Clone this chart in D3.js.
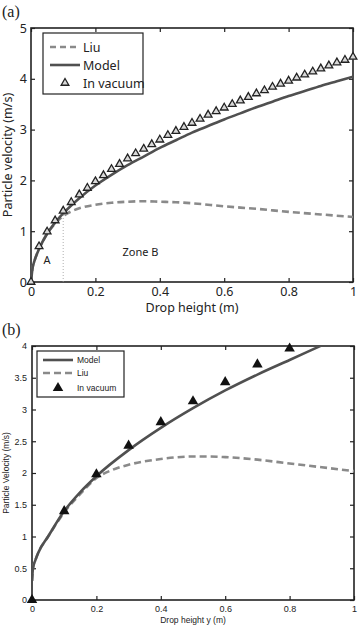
<!DOCTYPE html>
<html><head><meta charset="utf-8">
<script src="https://cdn.jsdelivr.net/npm/d3@7"></script>
<style>body{margin:0;background:#fff}svg{display:block}</style>
</head><body>
<script>
// ---------- Panel (a) data ----------
const xTicksA = [0, 0.2, 0.4, 0.6, 0.8, 1];
const xTickLabelsA = ["0", "0.2", "0.4", "0.6", "0.8", "1"];
const yTicksA = [0, 1, 2, 3, 4, 5];
const yTickLabelsA = ["0", "1", "2", "3", "4", "5"];
const vacuumHA = [0,0.025,0.05,0.075,0.1,0.125,0.15,0.175,0.2,0.225,0.25,0.275,0.3,0.325,0.35,0.375,0.4,0.425,0.45,0.475,0.5,0.525,0.55,0.575,0.6,0.625,0.65,0.675,0.7,0.725,0.75,0.775,0.8,0.825,0.85,0.875,0.9,0.925,0.95,0.975,1];
const vacuumVA = [0,0.70,0.99,1.21,1.40,1.57,1.72,1.85,1.98,2.10,2.22,2.32,2.43,2.53,2.62,2.71,2.80,2.89,2.97,3.05,3.13,3.21,3.29,3.36,3.43,3.50,3.57,3.64,3.71,3.77,3.84,3.90,3.96,4.02,4.08,4.14,4.20,4.26,4.32,4.37,4.43];
const modelHA = [0,0.005,0.01,0.025,0.05,0.075,0.1,0.15,0.2,0.25,0.3,0.35,0.4,0.45,0.5,0.55,0.6,0.65,0.7,0.75,0.8,0.85,0.9,0.95,1];
const modelVA = [0,0.28,0.40,0.65,0.95,1.17,1.35,1.65,1.90,2.11,2.30,2.47,2.64,2.79,2.94,3.07,3.20,3.32,3.44,3.55,3.66,3.76,3.86,3.95,4.04];
const liuHA = [0,0.005,0.01,0.025,0.05,0.075,0.1,0.125,0.15,0.2,0.25,0.3,0.35,0.4,0.45,0.5,0.6,0.7,0.8,0.9,1];
const liuVA = [0,0.28,0.40,0.65,0.95,1.15,1.30,1.39,1.45,1.52,1.56,1.58,1.59,1.58,1.57,1.55,1.49,1.44,1.38,1.33,1.28];
const zoneLineA = [0.1, 1.35];

// ---------- Panel (b) data ----------
const xTicksB = [0, 0.2, 0.4, 0.6, 0.8, 1];
const xTickLabelsB = ["0", "0.2", "0.4", "0.6", "0.8", "1"];
const yTicksB = [0, 0.5, 1, 1.5, 2, 2.5, 3, 3.5, 4];
const yTickLabelsB = ["0", "0.5", "1", "1.5", "2", "2.5", "3", "3.5", "4"];
const vacuumHB = [0,0.1,0.2,0.3,0.4,0.5,0.6,0.7,0.8];
const vacuumVB = [0,1.40,1.98,2.43,2.80,3.13,3.43,3.71,3.96];
const modelHB = [0,0.003,0.01,0.02,0.05,0.1,0.15,0.2,0.3,0.4,0.5,0.6,0.7,0.8,0.9];
const modelVB = [0.3,0.5,0.62,0.75,1.0,1.4,1.70,1.95,2.36,2.71,3.02,3.30,3.55,3.78,4.01];
const liuHB = [0,0.003,0.01,0.02,0.05,0.1,0.15,0.2,0.25,0.3,0.4,0.5,0.55,0.6,0.7,0.8,0.9,1];
const liuVB = [0.3,0.5,0.62,0.75,1.0,1.38,1.67,1.92,2.05,2.13,2.22,2.26,2.26,2.25,2.21,2.15,2.09,2.03];

const W = 360, H = 628;
const svg = d3.select("body").append("svg").attr("width", W).attr("height", H);

const modelColor = "#505050", liuColor = "#8a8a8a";

function panel(cfg) {
  const g = svg.append("g");
  const x = d3.scaleLinear().domain([0, 1]).range([cfg.left, cfg.right]);
  const y = d3.scaleLinear().domain(cfg.yDomain).range([cfg.bottom, cfg.top]);
  const clipId = "clip" + cfg.id;
  svg.append("clipPath").attr("id", clipId).append("rect")
    .attr("x", cfg.left).attr("y", cfg.top)
    .attr("width", cfg.right - cfg.left).attr("height", cfg.bottom - cfg.top);

  const fmtX = d => cfg.xLabels[cfg.xTicks.indexOf(d)];
  const fmtY = d => cfg.yLabels[cfg.yTicks.indexOf(d)];
  const ax = g.append("g").attr("transform", `translate(0,${cfg.bottom})`)
    .call(d3.axisBottom(x).tickValues(cfg.xTicks).tickSize(-4).tickPadding(cfg.xPad).tickFormat(fmtX));
  const ay = g.append("g").attr("transform", `translate(${cfg.left},0)`)
    .call(d3.axisLeft(y).tickValues(cfg.yTicks).tickSize(-4).tickPadding(cfg.yPad).tickFormat(fmtY));
  const at = g.append("g").attr("transform", `translate(0,${cfg.top})`)
    .call(d3.axisTop(x).tickValues(cfg.xTicks).tickSize(-4).tickFormat(""));
  const ar = g.append("g").attr("transform", `translate(${cfg.right},0)`)
    .call(d3.axisRight(y).tickValues(cfg.yTicks).tickSize(-4).tickFormat(""));
  [ax, ay, at, ar].forEach(a => {
    a.select(".domain").remove();
    a.selectAll("line").attr("stroke", "#222").attr("stroke-width", 1.2);
    a.selectAll("text").attr("fill", "#222").attr("font-family", cfg.font).attr("font-size", cfg.tickSize);
  });
  g.append("rect").attr("x", cfg.left).attr("y", cfg.top)
    .attr("width", cfg.right - cfg.left).attr("height", cfg.bottom - cfg.top)
    .attr("fill", "none").attr("stroke", "#222").attr("stroke-width", 1.6);

  const plot = g.append("g").attr("clip-path", `url(#${clipId})`);
  const line = d3.line().x(d => x(d[0])).y(d => y(d[1])).curve(d3.curveMonotoneX);
  cfg.draw(plot, x, y, line);

  g.append("text").attr("x", 2).attr("y", cfg.top - 11).attr("font-family", "Liberation Serif, Times New Roman, serif")
    .attr("font-size", 16).attr("fill", "#222").text(cfg.title);
  g.append("text").attr("x", (cfg.left + cfg.right) / 2).attr("y", cfg.xLabelY).attr("text-anchor", "middle")
    .attr("font-family", cfg.font).attr("font-size", cfg.labelSize).attr("fill", "#222").text(cfg.xLabel);
  g.append("text").attr("transform", `translate(${cfg.yLabelX},${(cfg.top + cfg.bottom) / 2}) rotate(-90)`)
    .attr("text-anchor", "middle").attr("font-family", cfg.font).attr("font-size", cfg.labelSize)
    .attr("fill", "#222").text(cfg.yLabel);
  return {g, x, y};
}

function pairs(h, v) { return h.map((d, i) => [d, v[i]]); }

// ---------- Panel (a) ----------
const pa = panel({
  id: "a", left: 31, right: 353, top: 28, bottom: 282, yDomain: [0, 5],
  xTicks: xTicksA, xLabels: xTickLabelsA, yTicks: yTicksA, yLabels: yTickLabelsA,
  font: "Noto Sans, sans-serif", tickSize: 12.5, labelSize: 12.5, xPad: 5, yPad: 4,
  title: "(a)", xLabel: "Drop height (m)", xLabelY: 312, yLabel: "Particle velocity (m/s)", yLabelX: 12,
  draw: (p, x, y, line) => {
    p.append("line").attr("x1", x(zoneLineA[0])).attr("x2", x(zoneLineA[0]))
      .attr("y1", y(0)).attr("y2", y(zoneLineA[1]))
      .attr("stroke", "#999").attr("stroke-width", 0.8).attr("stroke-dasharray", "1,2");
    p.append("path").datum(pairs(liuHA, liuVA)).attr("d", line).attr("fill", "none")
      .attr("stroke", liuColor).attr("stroke-width", 2.6).attr("stroke-dasharray", "7,4");
    p.append("path").datum(pairs(modelHA, modelVA)).attr("d", line).attr("fill", "none")
      .attr("stroke", modelColor).attr("stroke-width", 2.6);
    svg.append("g").selectAll("path").data(pairs(vacuumHA, vacuumVA)).join("path")
      .attr("transform", d => `translate(${x(d[0])},${y(d[1])})`)
      .attr("d", d3.symbol(d3.symbolTriangle, 26)).attr("fill", "#d8d8d8").attr("stroke", "#222").attr("stroke-width", 1.3);
    p.append("text").attr("x", x(0.05)).attr("y", y(0.35)).attr("text-anchor", "middle")
      .attr("font-family", "Noto Sans, sans-serif").attr("font-size", 11).attr("fill", "#222").text("A");
    p.append("text").attr("x", x(0.34)).attr("y", y(0.52)).attr("text-anchor", "middle")
      .attr("font-family", "Noto Sans, sans-serif").attr("font-size", 11).attr("fill", "#222").text("Zone B");
  }
});
// legend (a)
(function(){
  const lg = svg.append("g");
  lg.append("rect").attr("x", 43).attr("y", 33).attr("width", 100).attr("height", 61)
    .attr("fill", "#fff").attr("stroke", "#222").attr("stroke-width", 1.2);
  const f = "Noto Sans, sans-serif";
  lg.append("line").attr("x1", 50).attr("x2", 80).attr("y1", 47).attr("y2", 47)
    .attr("stroke", liuColor).attr("stroke-width", 2.6).attr("stroke-dasharray", "6,4");
  lg.append("text").attr("x", 83).attr("y", 51.5).attr("font-family", f).attr("font-size", 12.5).attr("fill", "#222").text("Liu");
  lg.append("line").attr("x1", 50).attr("x2", 80).attr("y1", 65).attr("y2", 65)
    .attr("stroke", modelColor).attr("stroke-width", 2.6);
  lg.append("text").attr("x", 83).attr("y", 69.5).attr("font-family", f).attr("font-size", 12.5).attr("fill", "#222").text("Model");
  lg.append("path").attr("transform", "translate(65,83)").attr("d", d3.symbol(d3.symbolTriangle, 26))
    .attr("fill", "#d8d8d8").attr("stroke", "#222").attr("stroke-width", 1.3);
  lg.append("text").attr("x", 83).attr("y", 87.5).attr("font-family", f).attr("font-size", 12.5).attr("fill", "#222").text("In vacuum");
})();

// ---------- Panel (b) ----------
const pb = panel({
  id: "b", left: 32, right: 354, top: 346, bottom: 600, yDomain: [0, 4],
  xTicks: xTicksB, xLabels: xTickLabelsB, yTicks: yTicksB, yLabels: yTickLabelsB,
  font: "Liberation Sans, Arial, sans-serif", tickSize: 9, labelSize: 8.5, xPad: 6, yPad: 5,
  title: "(b)", xLabel: "Drop height y (m)", xLabelY: 623, yLabel: "Particle Velocity (m/s)", yLabelX: 9,
  draw: (p, x, y, line) => {
    p.append("path").datum(pairs(liuHB, liuVB)).attr("d", line).attr("fill", "none")
      .attr("stroke", liuColor).attr("stroke-width", 2.6).attr("stroke-dasharray", "7,4");
    p.append("path").datum(pairs(modelHB, modelVB)).attr("d", line).attr("fill", "none")
      .attr("stroke", modelColor).attr("stroke-width", 2.6);
    svg.append("g").selectAll("path").data(pairs(vacuumHB, vacuumVB)).join("path")
      .attr("transform", d => `translate(${x(d[0])},${y(d[1])})`)
      .attr("d", d3.symbol(d3.symbolTriangle, 48)).attr("fill", "#111");
  }
});
// legend (b)
(function(){
  const lg = svg.append("g");
  lg.append("rect").attr("x", 37).attr("y", 351).attr("width", 87).attr("height", 46)
    .attr("fill", "#fff").attr("stroke", "#222").attr("stroke-width", 1.2);
  const f = "Liberation Sans, Arial, sans-serif";
  lg.append("line").attr("x1", 43).attr("x2", 73).attr("y1", 360).attr("y2", 360)
    .attr("stroke", modelColor).attr("stroke-width", 2.6);
  lg.append("text").attr("x", 77).attr("y", 363).attr("font-family", f).attr("font-size", 8.5).attr("fill", "#222").text("Model");
  lg.append("line").attr("x1", 43).attr("x2", 73).attr("y1", 373).attr("y2", 373)
    .attr("stroke", liuColor).attr("stroke-width", 2.6).attr("stroke-dasharray", "7,4");
  lg.append("text").attr("x", 77).attr("y", 376).attr("font-family", f).attr("font-size", 8.5).attr("fill", "#222").text("Liu");
  lg.append("path").attr("transform", "translate(58,388)").attr("d", d3.symbol(d3.symbolTriangle, 48)).attr("fill", "#111");
  lg.append("text").attr("x", 77).attr("y", 391).attr("font-family", f).attr("font-size", 8.5).attr("fill", "#222").text("In vacuum");
})();
</script>
</body></html>
